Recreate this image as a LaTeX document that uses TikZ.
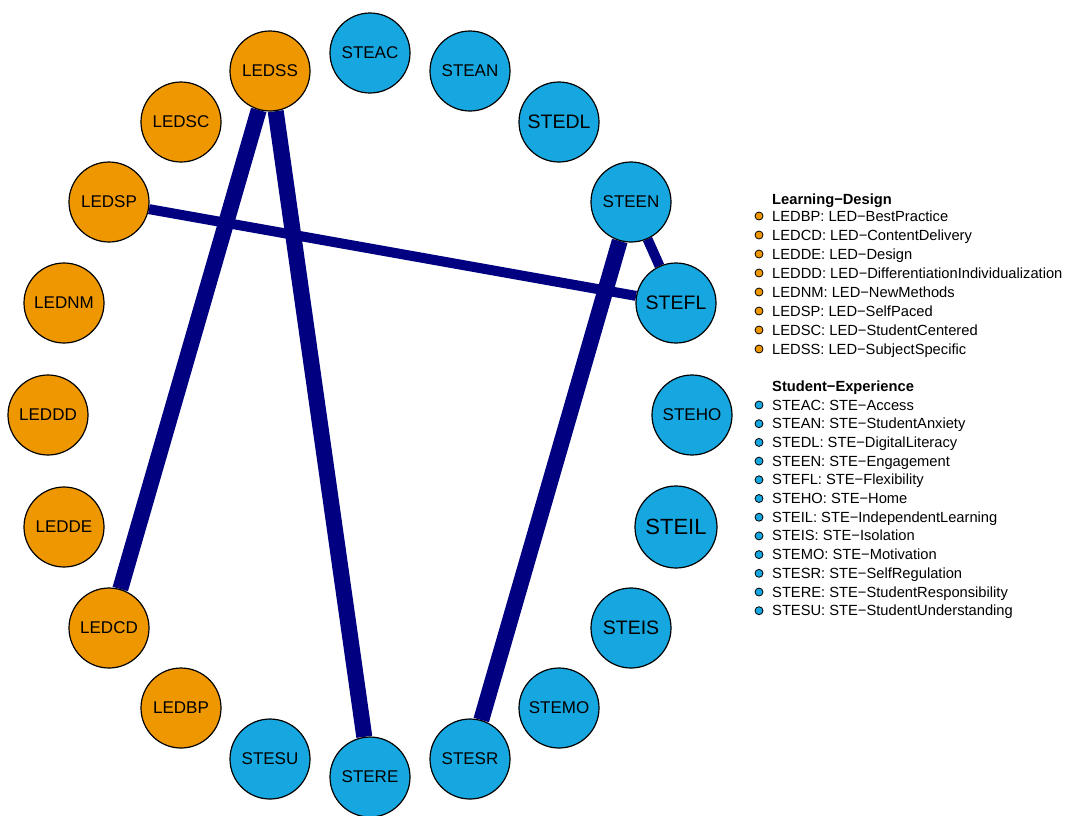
\documentclass[tikz,border=0pt]{standalone}
\usepackage{fontspec}
\setmainfont{Liberation Sans}
\usetikzlibrary{backgrounds}
\definecolor{ledorange}{RGB}{239,151,0}
\definecolor{steblue}{RGB}{22,166,224}
\definecolor{edgenavy}{RGB}{0,0,128}

\begin{document}
\begin{tikzpicture}[x=1pt, y=-1pt,
  ledcirc/.style={circle, draw=black, line width=1.2pt, fill=ledorange, minimum size=80pt, inner sep=0pt, font=\fontsize{17}{20}\selectfont},
  stecirc/.style={ledcirc, fill=steblue},
  bigtext/.style={font=\fontsize{19.5}{22}\selectfont},
  bigedge/.style={edgenavy, line width=16pt},
  midedge/.style={edgenavy, line width=10pt},
  legdot/.style={circle, draw=black, line width=0.8pt, minimum size=8pt, inner sep=0pt},
  legtext/.style={anchor=base west, inner sep=0pt, font=\fontsize{14.7}{16}\selectfont},
  legtitle/.style={legtext, font=\bfseries\fontsize{14.7}{16}\selectfont}]
\useasboundingbox (0,0) rectangle (1071,815);

% Learning-Design nodes (left half of the ring)
\node[ledcirc] (LEDSS) at (270,71) {LEDSS};
\node[ledcirc] (LEDSC) at (181,122) {LEDSC};
\node[ledcirc] (LEDSP) at (109,202) {LEDSP};
\node[ledcirc] (LEDNM) at (64,303) {LEDNM};
\node[ledcirc] (LEDDD) at (48,415) {LEDDD};
\node[ledcirc] (LEDDE) at (64,527) {LEDDE};
\node[ledcirc] (LEDCD) at (109,628) {LEDCD};
\node[ledcirc] (LEDBP) at (181,708) {LEDBP};

% Student-Experience nodes
\node[stecirc] (STESU) at (270,759) {STESU};
\node[stecirc] (STERE) at (370,777) {STERE};
\node[stecirc] (STESR) at (470,759) {STESR};
\node[stecirc] (STEMO) at (559,708) {STEMO};
\node[stecirc, bigtext] (STEIS) at (631,628) {STEIS};
\node[stecirc, minimum size=82pt, font=\fontsize{22}{24}\selectfont] (STEIL) at (676,527) {STEIL};
\node[stecirc] (STEHO) at (692,415) {STEHO};
\node[stecirc, bigtext] (STEFL) at (676,303) {STEFL};
\node[stecirc] (STEEN) at (631,202) {STEEN};
\node[stecirc, bigtext] (STEDL) at (559,122) {STEDL};
\node[stecirc] (STEAN) at (470,71) {STEAN};
\node[stecirc] (STEAC) at (370,53) {STEAC};

% Edges (behind the nodes)
\begin{scope}[on background layer]
\draw[bigedge] (LEDSS) -- (LEDCD);
\draw[bigedge] (LEDSS) -- (STERE);
\draw[bigedge] (STEEN) -- (STESR);
\draw[midedge] (LEDSP) -- (STEFL);
\draw[midedge] (STEEN) -- (STEFL);
\end{scope}

% Legend: Learning-Design
\node[legtitle] (ledtitle) at (772,204) {Learning−Design};
\node[legdot, fill=ledorange] (dotBP) at (759,216) {};
\node[legtext] (legBP) at (772,221) {LEDBP: LED−BestPractice};
\node[legdot, fill=ledorange] (dotCD) at (759,235) {};
\node[legtext] (legCD) at (772,240) {LEDCD: LED−ContentDelivery};
\node[legdot, fill=ledorange] (dotDE) at (759,254) {};
\node[legtext] (legDE) at (772,259) {LEDDE: LED−Design};
\node[legdot, fill=ledorange] (dotDD) at (759,273) {};
\node[legtext] (legDD) at (772,278) {LEDDD: LED−DifferentiationIndividualization};
\node[legdot, fill=ledorange] (dotNM) at (759,292) {};
\node[legtext] (legNM) at (772,297) {LEDNM: LED−NewMethods};
\node[legdot, fill=ledorange] (dotSP) at (759,311) {};
\node[legtext] (legSP) at (772,316) {LEDSP: LED−SelfPaced};
\node[legdot, fill=ledorange] (dotSC) at (759,330) {};
\node[legtext] (legSC) at (772,335) {LEDSC: LED−StudentCentered};
\node[legdot, fill=ledorange] (dotSS) at (759,349) {};
\node[legtext] (legSS) at (772,354) {LEDSS: LED−SubjectSpecific};

% Legend: Student-Experience
\node[legtitle] (stetitle) at (772,391) {Student−Experience};
\node[legdot, fill=steblue] (dotAC) at (759,405) {};
\node[legtext] (legAC) at (772,410) {STEAC: STE−Access};
\node[legdot, fill=steblue] (dotAN) at (759,423.7) {};
\node[legtext] (legAN) at (772,428.7) {STEAN: STE−StudentAnxiety};
\node[legdot, fill=steblue] (dotDL) at (759,442.4) {};
\node[legtext] (legDL) at (772,447.4) {STEDL: STE−DigitalLiteracy};
\node[legdot, fill=steblue] (dotEN) at (759,461.1) {};
\node[legtext] (legEN) at (772,466.1) {STEEN: STE−Engagement};
\node[legdot, fill=steblue] (dotFL) at (759,479.8) {};
\node[legtext] (legFL) at (772,484.8) {STEFL: STE−Flexibility};
\node[legdot, fill=steblue] (dotHO) at (759,498.5) {};
\node[legtext] (legHO) at (772,503.5) {STEHO: STE−Home};
\node[legdot, fill=steblue] (dotIL) at (759,517.2) {};
\node[legtext] (legIL) at (772,522.2) {STEIL: STE−IndependentLearning};
\node[legdot, fill=steblue] (dotIS) at (759,535.9) {};
\node[legtext] (legIS) at (772,540.9) {STEIS: STE−Isolation};
\node[legdot, fill=steblue] (dotMO) at (759,554.6) {};
\node[legtext] (legMO) at (772,559.6) {STEMO: STE−Motivation};
\node[legdot, fill=steblue] (dotSR) at (759,573.3) {};
\node[legtext] (legSR) at (772,578.3) {STESR: STE−SelfRegulation};
\node[legdot, fill=steblue] (dotRE) at (759,592) {};
\node[legtext] (legRE) at (772,597) {STERE: STE−StudentResponsibility};
\node[legdot, fill=steblue] (dotSU) at (759,610.7) {};
\node[legtext] (legSU) at (772,615.7) {STESU: STE−StudentUnderstanding};
\end{tikzpicture}
\end{document}
